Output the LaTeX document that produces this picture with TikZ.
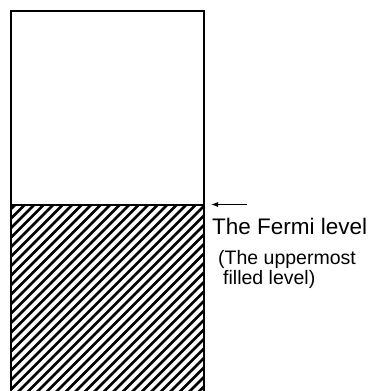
\documentclass[tikz,border=0pt]{standalone}
\usepackage{fontspec}
\setmainfont{Liberation Sans}
\usetikzlibrary{arrows.meta}
\begin{document}
\begin{tikzpicture}[x=1pt,y=1pt,
  boxline/.style={line width=2pt,line join=miter},
  hatchline/.style={line width=2.5pt},
  lbl/.style={inner sep=0pt,anchor=base west}]
\useasboundingbox (0,0) rectangle (371,391);
% hatched lower part
\begin{scope}
  \clip (11,-5) rectangle (204,186);
  \foreach \c in {-200,-190.5,...,200}{
    \draw[hatchline] (\c,-10) -- (\c+220,210);
  }
\end{scope}
% box
\coordinate (bl) at (11,-5);
\coordinate (tl) at (11,380);
\coordinate (tr) at (204,380);
\coordinate (br) at (204,-5);
\draw[boxline] (bl) -- (tl) -- (tr) -- (br);
\coordinate (fl) at (11,186);
\coordinate (fr) at (204,186);
\draw[line width=1.6pt] (fl) -- (fr);
% arrow
\coordinate (as) at (247,186.5);
\coordinate (ae) at (211,186.5);
\draw[line width=1pt,-{Latex[length=7pt,width=5pt]}] (as) -- (ae);
\node[lbl,font=\fontsize{22.5}{26}\selectfont] (fermi) at (212,156) {The Fermi level};
\node[lbl,font=\fontsize{19.5}{21}\selectfont] (upper) at (218,126) {(The uppermost};
\node[lbl,font=\fontsize{19.5}{21}\selectfont] (filled) at (223,106) {filled level)};
\end{tikzpicture}
\end{document}
